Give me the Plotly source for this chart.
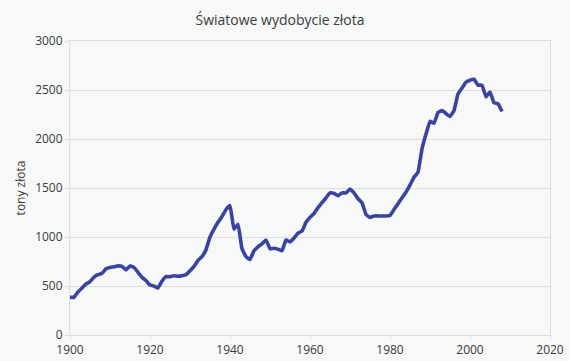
import plotly.graph_objects as go

years = list(range(1900, 2009))
tons = [385, 385, 440, 480, 520, 545, 590, 615, 630, 675,
        690, 695, 705, 700, 665, 705, 690, 640, 590, 555,
        510, 500, 480, 550, 595, 595, 605, 600, 605, 615,
        655, 700, 760, 800, 870, 1000, 1080, 1150, 1210, 1280,
        1320, 1080, 1130, 880, 800, 770, 860, 900, 930, 970,
        880, 885, 875, 860, 970, 950, 990, 1040, 1060, 1150,
        1200, 1240, 1300, 1350, 1400, 1450, 1445, 1420, 1450, 1450,
        1490, 1450, 1390, 1350, 1230, 1200, 1215, 1215, 1215, 1215,
        1220, 1280, 1340, 1400, 1460, 1530, 1610, 1660, 1900, 2050,
        2180, 2160, 2270, 2290, 2260, 2230, 2290, 2460, 2520, 2580,
        2600, 2610, 2550, 2550, 2430, 2480, 2370, 2360, 2280]

x_ticks = [1900, 1920, 1940, 1960, 1980, 2000, 2020]
y_ticks = [0, 500, 1000, 1500, 2000, 2500, 3000]

title = "Światowe wydobycie złota"
y_title = "tony złota"

bg = "#f6f9f7"
grid = "#dcdfdd"
font = "Open Sans"
txt = "#3a3a3a"

fig = go.Figure()
fig.add_trace(go.Scatter(
    x=years, y=tons, mode="lines",
    line=dict(color="#3a44a0", width=3.6, shape="spline", smoothing=0.3),
    hoverinfo="skip", showlegend=False,
))

fig.update_layout(
    width=570, height=361,
    paper_bgcolor=bg, plot_bgcolor=bg,
    margin=dict(l=70, r=20, t=41, b=26, autoexpand=False),
    title=dict(text=title, x=280 / 570, xanchor="center", y=1 - 20 / 361, yanchor="middle",
               font=dict(family=font, size=14, color=txt)),
    font=dict(family=font, size=12, color=txt),
    xaxis=dict(range=[1900, 2020], tickvals=x_ticks, showgrid=False, automargin=False,
               showline=True, linecolor=grid, linewidth=1, mirror=True,
               ticks="outside", ticklen=4, tickcolor=grid, zeroline=False,
               tickfont=dict(family=font, size=12, color=txt)),
    yaxis=dict(range=[0, 3000], tickvals=y_ticks, showgrid=True, gridcolor=grid, gridwidth=1,
               automargin=False,
               showline=True, linecolor=grid, linewidth=1, mirror=True,
               ticks="outside", ticklen=4, tickcolor=grid, zeroline=False,
               title=dict(text=y_title, standoff=6, font=dict(family=font, size=12, color=txt)),
               tickfont=dict(family=font, size=12, color=txt)),
)

fig.write_html(
    "out.html",
    config={"displayModeBar": False, "staticPlot": True},
    post_script="document.body.style.margin='0';document.body.style.padding='0';"
                "document.body.style.background='" + bg + "';",
)
